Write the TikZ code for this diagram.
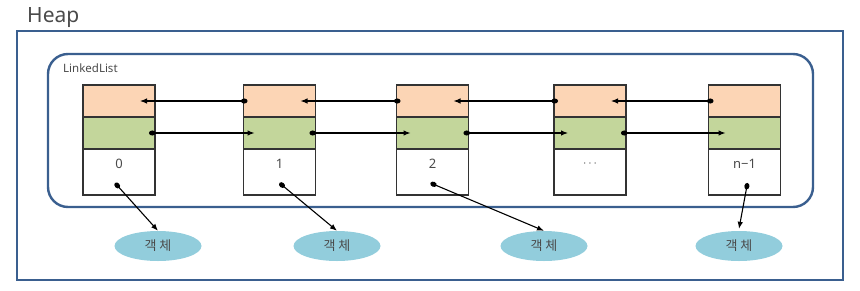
\documentclass[tikz,border=0pt]{standalone}
\usepackage{fontspec}
\setmainfont{Noto Sans}
\newfontfamily\kr{Noto Sans CJK KR}
\usetikzlibrary{arrows.meta,shapes.geometric}
\definecolor{frameblue}{HTML}{3A5F8F}
\definecolor{prevfill}{HTML}{FCD5B5}
\definecolor{nextfill}{HTML}{C3D69B}
\definecolor{objfill}{HTML}{92CDDC}
\definecolor{txt}{HTML}{4A4A4A}
\tikzset{
  cellbox/.style={draw=black!80, line width=1.3pt, minimum width=72pt, inner sep=0pt, outer sep=0pt},
  prevcell/.style={cellbox, fill=prevfill, minimum height=32pt},
  nextcell/.style={cellbox, fill=nextfill, minimum height=32pt},
  datacell/.style={cellbox, fill=white, minimum height=46pt},
  frame/.style={draw=frameblue, line width=2.4pt},
  ptr/.style={line width=1.1pt, {Circle[length=6.5pt,width=5pt]}-{Latex[length=7pt,width=5.5pt]}},
  obj/.style={ellipse, fill=objfill, minimum width=87pt, minimum height=30pt, inner sep=0pt, font=\kr\fontsize{13}{13}\selectfont, text=txt},
  numtxt/.style={font=\fontsize{13}{13}\selectfont, text=txt}
}
\begin{document}
\begin{tikzpicture}[x=1pt,y=-1pt]
\useasboundingbox (0,0) rectangle (860,290);
\node[anchor=base west, font=\fontsize{21}{21}\selectfont, text=txt, inner sep=0pt] (heap) at (27,22) {Heap};
\draw[frame] (17,31) rectangle (843,280);
\draw[frame, rounded corners=20pt] (48,54) rectangle (813,207);
\node[anchor=base west, font=\fontsize{11.5}{11.5}\selectfont, text=txt, inner sep=0pt] (ll) at (63,72) {LinkedList};
\foreach \i/\x/\lab in {0/119/0, 1/279.5/1, 2/432.5/2, 3/590/{$\cdots$}, 4/744.5/n−1}{
  \node[prevcell] (p\i) at (\x,101) {};
  \node[nextcell] (n\i) at (\x,133) {};
  \node[datacell] (d\i) at (\x,172) {};
  \node[numtxt] (t\i) at (\x,164) {\lab};
}
% prev links (right to left)
\draw[ptr] ([xshift=4pt]p1.west) -- ([xshift=-15pt]p0.east);
\draw[ptr] ([xshift=4pt]p2.west) -- ([xshift=-15pt]p1.east);
\draw[ptr] ([xshift=4pt]p3.west) -- ([xshift=-15pt]p2.east);
\draw[ptr] ([xshift=5pt]p4.west) -- ([xshift=-15pt]p3.east);
% next links (left to right)
\draw[ptr] ([xshift=-6pt]n0.east) -- ([xshift=11pt]n1.west);
\draw[ptr] ([xshift=-6pt]n1.east) -- ([xshift=14pt]n2.west);
\draw[ptr] ([xshift=-5pt]n2.east) -- ([xshift=14pt]n3.west);
\draw[ptr] ([xshift=-5pt]n3.east) -- ([xshift=17pt]n4.west);
% objects
\node[obj] (o0) at (158,246) {객 체};
\node[obj] (o1) at (337,246) {객 체};
\node[obj] (o2) at (544,246) {객 체};
\node[obj] (o4) at (739,246) {객 체};
\draw[ptr] ([xshift=-4pt,yshift=12pt]d0.south) -- (o0.north);
\draw[ptr] ([yshift=12pt]d1.south) -- (o1.north);
\draw[ptr] ([xshift=-2pt,yshift=12pt]d2.south) -- (o2.north);
\draw[ptr] ([xshift=3pt,yshift=12pt]d4.south) -- ([yshift=2pt]o4.north);
\end{tikzpicture}
\end{document}
